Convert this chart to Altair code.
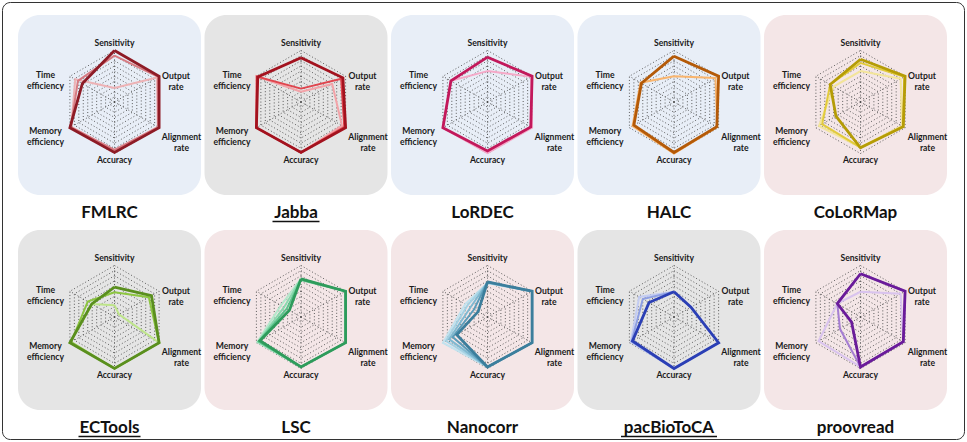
import altair as alt
import pandas as pd

W, H = 967, 442

# Radar axes, clockwise from the top
AXIS_NAMES = ["Sensitivity", "Output rate", "Alignment rate", "Accuracy",
              "Memory efficiency", "Time efficiency"]
AXIS_TEXT = ["Sensitivity", "Output\nrate", "Alignment\nrate", "Accuracy",
             "Memory\nefficiency", "Time\nefficiency"]

TOOLS = ["FMLRC", "Jabba", "LoRDEC", "HALC", "CoLoRMap",
         "ECTools", "LSC", "Nanocorr", "pacBioToCA", "proovread"]
UNDERLINED = ["Jabba", "ECTools", "pacBioToCA"]
PANEL_TINT = ["blue", "gray", "blue", "blue", "pink",
              "gray", "pink", "pink", "gray", "pink"]
TINT_COLOURS = {"blue": "#E8EEF7", "gray": "#E5E5E5", "pink": "#F4E6E7"}

# Normalised scores per run (axis order as AXIS_NAMES); lightest run first
fmlrc = [[0.27, 0.95, 0.97, 0.95, 0.97, 0.88],
         [0.90, 0.98, 0.98, 0.93, 0.98, 0.82],
         [1.00, 1.00, 1.00, 0.98, 1.00, 0.72]]
jabba = [[0.20, 0.70, 0.92, 0.98, 1.00, 1.00],
         [0.26, 0.90, 0.97, 0.98, 1.00, 0.99],
         [0.86, 0.94, 1.00, 0.98, 1.00, 0.97]]
lordec = [[0.60, 0.98, 1.00, 0.99, 1.00, 0.82],
          [0.87, 1.00, 0.97, 0.95, 1.00, 0.82]]
halc = [[0.50, 0.93, 0.97, 1.00, 0.93, 0.75],
        [0.89, 1.00, 0.96, 0.98, 0.90, 0.73]]
colormap = [[0.60, 0.90, 0.93, 0.88, 0.93, 0.60],
            [0.76, 0.98, 0.95, 0.88, 0.86, 0.68],
            [0.83, 1.00, 0.96, 0.89, 0.55, 0.68]]
ectools = [[0.23, 0.10, 1.00, 1.00, 1.00, 0.50],
           [0.48, 0.77, 1.00, 1.00, 0.97, 0.60],
           [0.58, 0.83, 1.00, 1.00, 1.00, 0.51]]
lsc = [[0.74, 1.00, 1.00, 0.97, 0.98, 0.45],
       [0.74, 1.00, 1.00, 0.97, 0.96, 0.38],
       [0.72, 1.00, 1.00, 0.97, 0.95, 0.32],
       [0.74, 1.00, 1.00, 0.97, 0.92, 0.26]]
nanocorr = [[0.66, 1.00, 1.00, 0.97, 1.00, 0.50],
            [0.66, 1.00, 1.00, 0.97, 0.93, 0.45],
            [0.67, 1.00, 1.00, 0.97, 0.86, 0.38],
            [0.68, 1.00, 1.00, 0.97, 0.78, 0.30],
            [0.68, 1.00, 1.00, 0.97, 0.69, 0.21]]
pacbiotoca = [[0.49, 0.38, 1.00, 1.00, 0.97, 0.78],
              [0.49, 0.38, 1.00, 1.00, 0.95, 0.70],
              [0.49, 0.38, 1.00, 1.00, 0.93, 0.56]]
proovread = [[0.49, 0.90, 0.96, 0.97, 0.94, 0.52],
             [0.84, 1.00, 0.96, 0.97, 0.46, 0.52],
             [0.84, 1.00, 0.96, 0.97, 0.20, 0.52]]

SCORES = {"FMLRC": fmlrc, "Jabba": jabba, "LoRDEC": lordec, "HALC": halc,
          "CoLoRMap": colormap, "ECTools": ectools, "LSC": lsc,
          "Nanocorr": nanocorr, "pacBioToCA": pacbiotoca, "proovread": proovread}

# Line shades per run, matching the order of the score lists
SHADES = {"FMLRC": ["#EDB2B5", "#D77B82", "#8E1B26"],
          "Jabba": ["#F3A3A8", "#E0454E", "#A3121E"],
          "LoRDEC": ["#F5A9C8", "#C2185B"],
          "HALC": ["#F9B56E", "#B45A08"],
          "CoLoRMap": ["#F3E59A", "#E2CB3C", "#B59C06"],
          "ECTools": ["#BEE58A", "#8DC641", "#5A8F1E"],
          "LSC": ["#B5E8CC", "#8AD9AE", "#5CC48C", "#2E9B5B"],
          "Nanocorr": ["#C2E2EE", "#A3D1E3", "#7FB9D1", "#5C9DBA", "#3C7E9C"],
          "pacBioToCA": ["#C3CCF2", "#8E9FE3", "#2B3FB5"],
          "proovread": ["#D9C3EE", "#A57DD3", "#6A1B9A"]}

# ---- layout -------------------------------------------------------------
PANEL_W, PANEL_H = 183, 180
LEFT0, PITCH = 18, 186.5
ROW_TOPS = [15, 230]
RADIUS = 51.5
CENTRE_DX, CENTRE_DY = 96.5, 87
TITLE_DY = 197.5
UNDERLINE_W = {"Jabba": 47, "ECTools": 62, "pacBioToCA": 96}
GRID_STEPS = 10
LABEL_OFFSETS = [(0, -59), (61.5, -26), (67, 35), (0, 58), (-69, 29), (-69, -27)]

panel_rows = []
for i, tool in enumerate(TOOLS):
    left = LEFT0 + PITCH * (i % 5)
    top = ROW_TOPS[i // 5]
    panel_rows.append(dict(
        tool=tool, left=left, right=left + PANEL_W, top=top, bottom=top + PANEL_H,
        cx=left + CENTRE_DX, cy=top + CENTRE_DY,
        tx=left + PANEL_W / 2, ty=top + TITLE_DY,
        tint=TINT_COLOURS[PANEL_TINT[i]]))
panels = pd.DataFrame(panel_rows)
centre = panels.set_index("tool")[["cx", "cy"]]

# Run polygons (closed by repeating the first axis)
line_rows = []
for tool in TOOLS:
    runs = SCORES[tool]
    for r, values in enumerate(runs):
        depth = len(runs) - 1 - r
        for k in range(7):
            line_rows.append(dict(tool=tool, run=f"{tool}-{r}", depth=depth,
                                  shade=SHADES[tool][r], k=k,
                                  value=values[k % 6],
                                  cx=centre.loc[tool, "cx"], cy=centre.loc[tool, "cy"]))
lines = pd.DataFrame(line_rows)

grid_rows = []
for tool in TOOLS:
    for s in range(1, GRID_STEPS + 1):
        for k in range(7):
            grid_rows.append(dict(gid=f"{tool}-{s}", k=k, value=s / GRID_STEPS,
                                  cx=centre.loc[tool, "cx"], cy=centre.loc[tool, "cy"]))
grid = pd.DataFrame(grid_rows)

spoke_rows = []
for tool in TOOLS:
    for k in range(6):
        spoke_rows.append(dict(k=k, value=1.0,
                               cx=centre.loc[tool, "cx"], cy=centre.loc[tool, "cy"]))
spokes = pd.DataFrame(spoke_rows)

label_rows = []
for tool in TOOLS:
    for k in range(6):
        dx, dy = LABEL_OFFSETS[k]
        label_rows.append(dict(text=AXIS_TEXT[k],
                               lx=centre.loc[tool, "cx"] + dx,
                               ly=centre.loc[tool, "cy"] + dy))
labels = pd.DataFrame(label_rows)

under = panels[panels.tool.isin(UNDERLINED)].copy()
under["uw"] = under.tool.map(UNDERLINE_W)
under["u1"] = under.tx - under.uw / 2
under["u2"] = under.tx + under.uw / 2
under["uy"] = under.ty + 9

# ---- encodings ----------------------------------------------------------
XS = alt.Scale(domain=[0, W], range=[0, W])
YS = alt.Scale(domain=[0, H], range=[0, H])


def X(f):
    return alt.X(f, type="quantitative", scale=XS, axis=None)


def Y(f):
    return alt.Y(f, type="quantitative", scale=YS, axis=None)


POLAR_X = "datum.cx + %s * datum.value * sin(datum.k * PI / 3)" % RADIUS
POLAR_Y = "datum.cy - %s * datum.value * cos(datum.k * PI / 3)" % RADIUS

frame = alt.Chart(pd.DataFrame({"a": [0]})).mark_rect(
    fillOpacity=0, stroke="#333333", strokeWidth=1, cornerRadius=8
).encode(x=alt.value(2.5), x2=alt.value(W - 2.5), y=alt.value(2.5), y2=alt.value(H - 2.5))

backgrounds = alt.Chart(panels).mark_rect(cornerRadius=22).encode(
    x=X("left"), x2="right", y=Y("top"), y2="bottom",
    color=alt.Color("tint:N", scale=None))

rings = alt.Chart(grid).transform_calculate(px=POLAR_X, py=POLAR_Y).mark_line(
    stroke="#4a4a4a", strokeWidth=0.9, strokeDash=[1, 2.2]
).encode(x=X("px"), y=Y("py"), detail="gid:N", order="k:Q")

axes_lines = alt.Chart(spokes).transform_calculate(px=POLAR_X, py=POLAR_Y).mark_rule(
    stroke="#4a4a4a", strokeWidth=0.9, strokeDash=[1, 2.2]
).encode(x=X("cx"), y=Y("cy"), x2="px", y2="py")

run_layers = []
for depth in range(4, -1, -1):
    run_layers.append(
        alt.Chart(lines).transform_filter(alt.datum.depth == depth)
        .transform_calculate(px=POLAR_X, py=POLAR_Y)
        .mark_line(strokeWidth=2.8 if depth == 0 else 2.0, strokeJoin="miter")
        .encode(x=X("px"), y=Y("py"), detail="run:N", order="k:Q",
                color=alt.Color("shade:N", scale=None)))

axis_text = alt.Chart(labels).mark_text(
    font="Lato", fontWeight="bold", fontSize=8.6, lineBreak="\n", lineHeight=10.5,
    align="center", baseline="middle", color="#1a1a1a"
).encode(x=X("lx"), y=Y("ly"), text="text:N")

titles = alt.Chart(panels).mark_text(
    font="Lato", fontWeight="bold", fontSize=17, align="center",
    baseline="middle", color="#111111"
).encode(x=X("tx"), y=Y("ty"), text="tool:N")

underlines = alt.Chart(under).mark_rule(color="#111111", strokeWidth=1.4).encode(
    x=X("u1"), x2="u2", y=Y("uy"))

chart = alt.layer(
    frame, backgrounds, rings, axes_lines, *run_layers, axis_text, titles, underlines
).properties(
    width=W, height=H, padding=0, autosize="none", background="white"
).configure_view(stroke=None)

chart.save("out.html", embed_options={"renderer": "svg", "actions": False})
